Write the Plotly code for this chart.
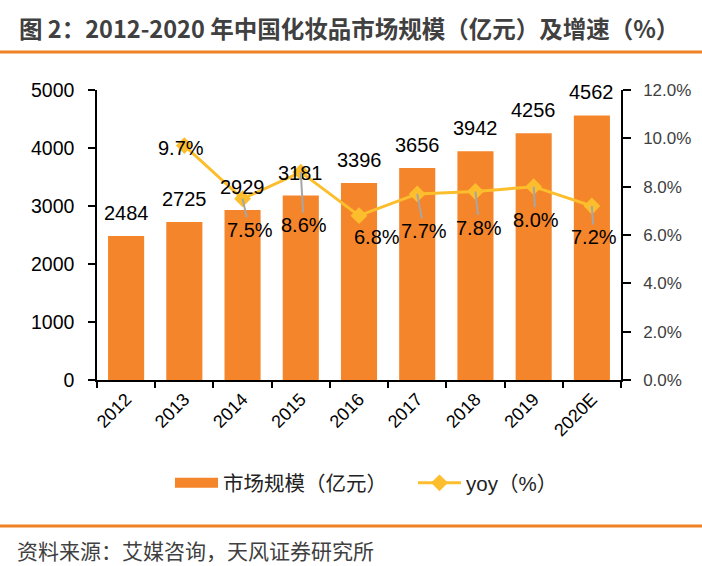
import plotly.graph_objects as go

years = ["2012", "2013", "2014", "2015", "2016", "2017", "2018", "2019", "2020E"]
market_size = [2484, 2725, 2929, 3181, 3396, 3656, 3942, 4256, 4562]
yoy_years = ["2013", "2014", "2015", "2016", "2017", "2018", "2019", "2020E"]
yoy = [9.7, 7.5, 8.6, 6.8, 7.7, 7.8, 8.0, 7.2]
left_ticks = [0, 1000, 2000, 3000, 4000, 5000]
right_ticks = [0, 2, 4, 6, 8, 10, 12]
right_tick_labels = ["0.0%", "2.0%", "4.0%", "6.0%", "8.0%", "10.0%", "12.0%"]

BAR = "#F5852A"
LINE = "#FDBE2D"
LATIN = "Liberation Sans, Arial, Noto Sans CJK SC"
CJK = "Noto Sans CJK SC, Liberation Sans"

# plot-area pixel geometry
W, H = 702, 566
L, R, T, B = 97, 621, 90, 380
pw, ph = R - L, B - T


def px(x):
    return (x - L) / pw


def py(y):
    return (B - y) / ph


fig = go.Figure()
fig.add_trace(go.Bar(x=years, y=market_size, marker=dict(color=BAR, line=dict(width=0)),
                     showlegend=False, name="市场规模（亿元）"))
fig.add_trace(go.Scatter(x=[None], y=[None], mode="lines", name="市场规模（亿元）",
                         line=dict(color=BAR, width=11), showlegend=True, hoverinfo="skip"))
fig.add_trace(go.Scatter(x=yoy_years, y=yoy, yaxis="y2", mode="lines+markers", name="yoy（%）",
                         line=dict(color=LINE, width=3),
                         marker=dict(symbol="diamond", size=13, color=LINE)))

ann = []
for x, v in zip(years, market_size):
    ann.append(dict(x=years.index(x), y=v, text=str(v), showarrow=False, yanchor="bottom",
                    yshift=10, font=dict(family=LATIN, size=20, color="#000000")))

# label offsets (px) relative to the point; arrow flag
offsets = {
    "2013": (-3, 2, False),
    "2014": (7, 31, True),
    "2015": (3, 53, True),
    "2016": (18, 21, False),
    "2017": (7, 37, True),
    "2018": (4, 36, True),
    "2019": (2, 33, True),
    "2020E": (2, 31, True),
}
for x, v in zip(yoy_years, yoy):
    dx, dy, arrow = offsets[x]
    a = dict(x=years.index(x), y=v, yref="y2", text=f"{v:.1f}%",
             font=dict(family=LATIN, size=20, color="#000000"))
    if arrow:
        a.update(showarrow=True, ax=dx, ay=dy, arrowhead=0, arrowwidth=2,
                 arrowcolor="#A6A6A6", standoff=0)
    else:
        a.update(showarrow=False, xshift=dx, yshift=-dy)
    ann.append(a)

ann.append(dict(xref="paper", yref="paper", x=px(17), y=py(28), xanchor="left", yanchor="middle",
                text="<b>图 2：2012-2020 年中国化妆品市场规模（亿元）及增速（%）</b>", showarrow=False,
                font=dict(family=CJK, size=23.5, color="#404040")))
ann.append(dict(xref="paper", yref="paper", x=px(15), y=py(550), xanchor="left", yanchor="middle",
                text="资料来源：艾媒咨询，天风证券研究所", showarrow=False,
                font=dict(family=CJK, size=21, color="#404040")))

shapes = [
    dict(type="line", xref="paper", yref="paper", x0=px(0), x1=px(W), y0=py(52), y1=py(52),
         line=dict(color="#F08226", width=3)),
    dict(type="line", xref="paper", yref="paper", x0=px(0), x1=px(W), y0=py(526), y1=py(526),
         line=dict(color="#F08226", width=3)),
]

fig.update_layout(
    width=W, height=H, autosize=False,
    margin=dict(l=L, r=W - R, t=T, b=H - B, pad=0),
    paper_bgcolor="white", plot_bgcolor="white",
    bargap=0.38,
    annotations=ann, shapes=shapes,
    xaxis=dict(type="category", categoryorder="array", categoryarray=years, range=[-0.5, 8.5],
               tickangle=-45, ticks="outside", tickson="boundaries", ticklen=6,
               tickwidth=1.5, tickcolor="black", showline=True, linecolor="black", linewidth=1.5,
               showgrid=False, tickfont=dict(family=LATIN, size=18, color="#000000")),
    yaxis=dict(range=[0, 5000], tickvals=left_ticks, ticks="outside", ticklen=7, tickwidth=1.5,
               tickcolor="black", showline=True, linecolor="black", linewidth=1.5, showgrid=False,
               zeroline=False, ticklabelstandoff=10,
               tickfont=dict(family=LATIN, size=19.5, color="#000000")),
    yaxis2=dict(range=[0, 12], tickvals=right_ticks, ticktext=right_tick_labels,
                overlaying="y", side="right", ticks="outside", ticklen=8, tickwidth=1.5,
                tickcolor="black", showline=True, linecolor="black", linewidth=1.5, showgrid=False,
                zeroline=False, ticklabelstandoff=9,
                tickfont=dict(family=LATIN, size=17, color="#404040")),
    legend=dict(orientation="h", x=px(170), y=py(483), xanchor="left", yanchor="middle",
                font=dict(family=LATIN, size=20.5, color="#222222"), itemwidth=43,
                entrywidth=185, bgcolor="rgba(0,0,0,0)"),
)

fig.write_html("out.html", config={"displayModeBar": False},
               post_script="document.body.style.margin='0';document.body.style.overflow='hidden';")
